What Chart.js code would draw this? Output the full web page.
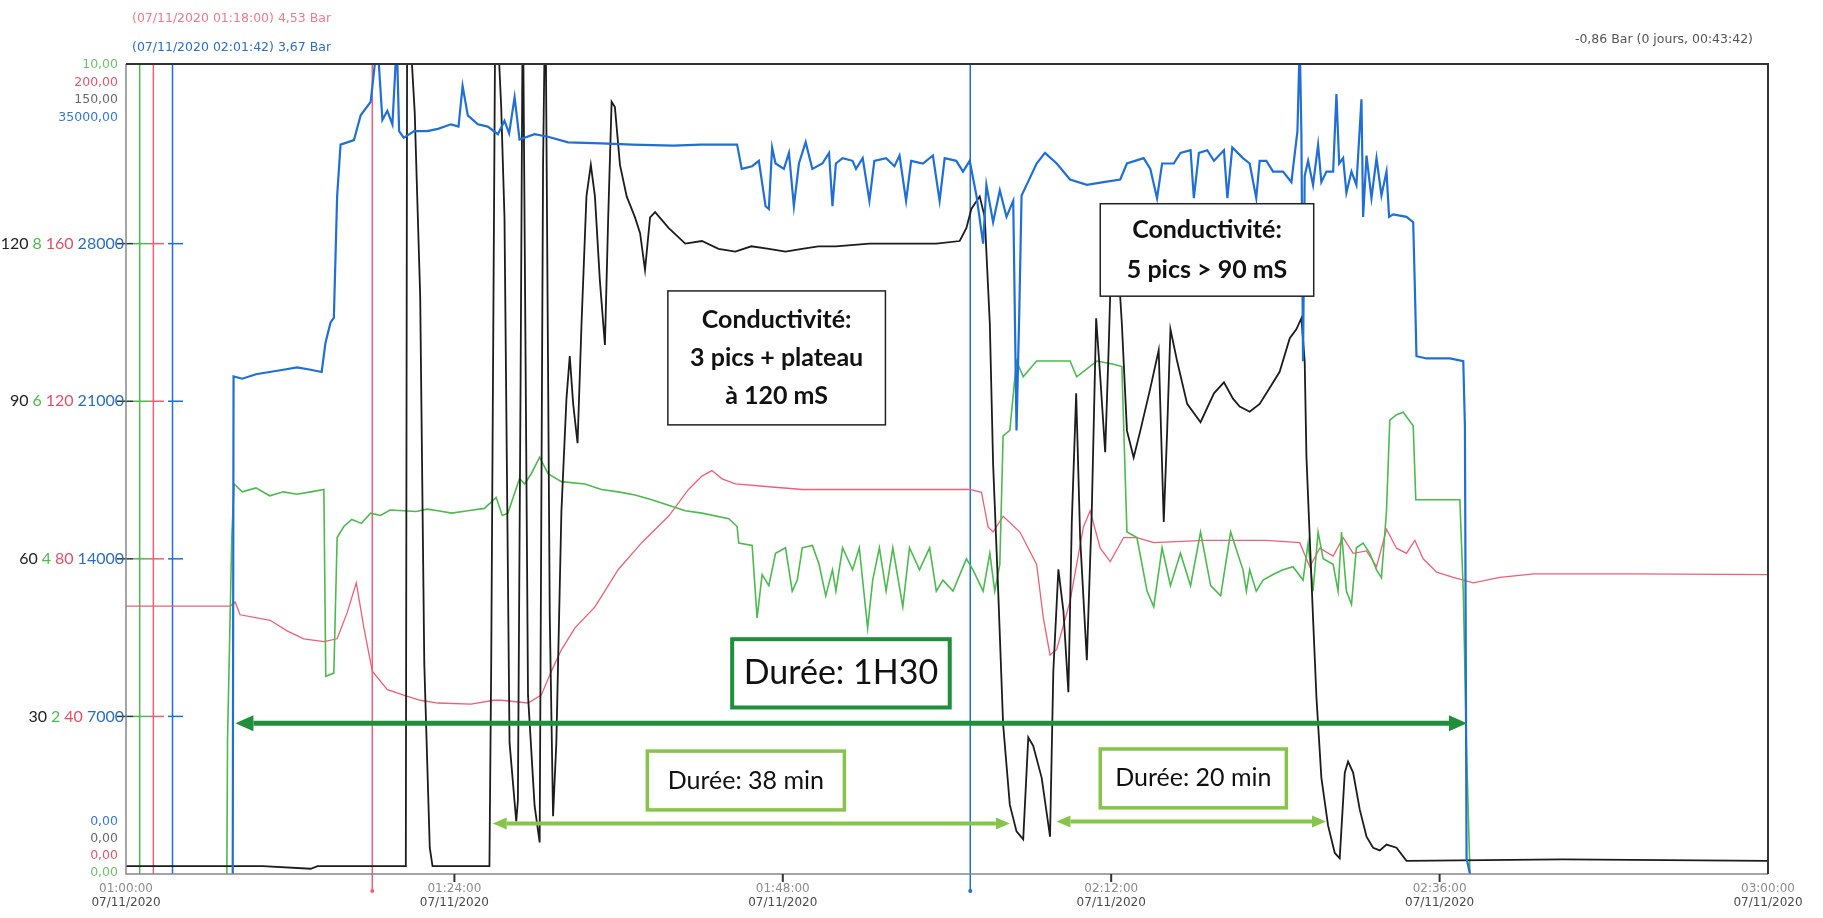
<!DOCTYPE html>
<html>
<head>
<meta charset="utf-8">
<title>Conductivité / Pression</title>
<script src="https://cdn.jsdelivr.net/npm/chart.js@4.4.1/dist/chart.umd.min.js"></script>
<style>
  html, body { margin: 0; padding: 0; background: #fff; }
  #wrap { width: 1823px; height: 918px; position: relative; }
</style>
</head>
<body>
<div id="wrap"><canvas id="chart"></canvas></div>
<script>
// Time in minutes since 01:00:00 (07/11/2020)
const TIME_TICKS = [0, 24, 48, 72, 96, 120];
const TIME_LABELS = ['01:00:00', '01:24:00', '01:48:00', '02:12:00', '02:36:00', '03:00:00'];
const DATE_LABEL = '07/11/2020';

// manual scale labels on the left axis (one row per level)
const LEVEL_BLACK = [30, 60, 90, 120];
const LEVEL_GREEN = [2, 4, 6, 8];
const LEVEL_RED = [40, 80, 120, 160];
const LEVEL_BLUE = [7000, 14000, 21000, 28000];

// cursors (time, series)
const CURSOR_T = [1.0, 2.0, 3.4, 18.0, 61.7];
const CURSOR_SERIES = ['green', 'red', 'blue', 'red', 'blue'];

// blue series
const BLUE_T = [7.8, 7.86, 8.5, 9.5, 10.5, 11.5, 12.5, 13.5, 14.3, 14.58, 14.95, 15.19, 15.43, 15.68, 16.66, 17.15, 17.88, 18.37, 18.74, 19.1, 19.47, 19.79, 19.96, 20.3, 21.06, 22.0, 22.8, 23.75, 24.3, 24.6, 24.98, 25.71, 26.44, 27.18, 27.66, 28.0, 28.4, 28.76, 29.86, 30.84, 32.31, 34.75, 37, 40, 42, 44.66, 45.0, 45.76, 46.25, 46.74, 46.98, 47.22, 47.47, 48.08, 48.45, 48.81, 49.18, 49.67, 50.16, 50.89, 51.38, 51.63,
  51.88, 52.37, 53.1, 53.35, 53.84, 54.33, 54.69, 55.55, 56.16, 56.53, 57.01, 57.38, 58.24, 58.97, 59.46, 59.83, 60.68, 61.17, 61.66, 62.15, 62.64, 62.88, 63.37, 63.86, 64.35, 64.84, 65.08, 65.28, 65.45, 65.82, 66.55, 67.16, 68.02, 68.99, 70.22, 71.44, 72.66, 73.15, 74.37, 74.86, 75.35, 75.72, 76.57, 77.06, 77.8, 78.04, 78.41, 79.02, 79.51, 80.24, 80.49, 80.85,
  81.63, 82.12, 82.6, 82.85, 83.34, 83.83, 84.56, 85.17, 85.61, 85.78, 85.9, 86.02, 86.14, 86.39, 86.75, 87.12, 87.36, 87.73, 88.22, 88.46, 88.66, 88.95, 89.19, 89.56, 89.92, 90.29, 90.41, 90.66, 91.02, 91.39, 91.75, 92.12, 92.31, 92.61, 93.58, 94.07, 94.19, 94.31, 95.05, 96.75, 97.73, 97.85, 97.97, 98.22];
const BLUE_V = [0, 22100, 22000, 22200, 22300, 22400, 22500, 22400, 22300, 23600, 24500, 24700, 30100, 32400, 32600, 33700, 34300, 37000, 33500, 33900, 33300, 37000, 33000, 32700, 33000, 33000, 33100, 33300, 33200, 35000, 33700, 33300, 33200, 32860, 33460, 32900, 34500, 32630, 32860, 32750, 32500, 32450, 32400, 32350, 32400, 32400, 31320, 31440, 31680, 29660, 29540, 32270, 31560, 31320, 32030, 29660, 31560, 32510, 31320, 31560, 32030, 29660,
  31560, 31800, 31680, 31320, 31800, 29900, 31680, 31800, 31440, 31915, 29900, 31680, 31560, 31915, 29900, 31800, 31680, 31200, 31680, 30140, 28000, 30610, 28950, 30370, 29190, 29900, 19700, 24900, 30140, 30610, 31560, 32030, 31560, 30850, 30610, 30730, 30850, 31560, 31800, 31320, 30020, 31560, 31560, 32030, 32150, 30020, 32030, 32150, 31680, 32150, 30020, 32270,
  31800, 31560, 30020, 31680, 31680, 31200, 31200, 30730, 33000, 37000, 32860, 22780, 31000, 31680, 30610, 32390, 30730, 31200, 31200, 34650, 31560, 31800, 30260, 31200, 30610, 34410, 29190, 31915, 30020, 31800, 30140, 31200, 29190, 29300, 29190, 28950, 26100, 23000, 22900, 22900, 22780, 19900, 700, 0];

// black series (conductivité, mS)
const BLACK_T = [0, 10, 13.5, 14, 20.45, 20.55, 21.1, 21.5, 21.8, 22.2, 22.4, 26.56, 26.69, 27.0, 27.42, 27.66, 28.03, 28.52, 28.64, 28.84, 29.0, 29.38, 29.86, 30.23, 30.48, 30.65, 30.97, 31.21, 31.45, 31.82, 32.19, 32.43, 32.68, 33.0, 33.29, 33.65, 33.97, 34.27, 34.63, 35.0, 35.24, 35.49, 35.73, 36.1, 36.59, 37.2, 37.57, 37.93, 38.3, 38.67, 39.65, 40.87, 42.09, 43.3, 44.53, 45.7, 46.98, 48.2, 49.4, 50.6, 51.88, 54.33, 56.77, 59.22, 60.93, 61.42, 61.78, 62.39, 62.76, 63.13, 63.37, 63.74, 64.1, 64.59, 65.08, 65.57, 65.94, 66.3, 66.92, 67.53, 67.77, 68.14, 68.51, 68.87, 69.12, 69.44, 69.73, 70.22, 70.58, 70.9, 71.2, 71.56, 71.81, 72.1, 72.42, 72.78, 73.15, 73.64, 74.13, 74.86, 75.47, 75.84, 76.09, 76.33, 76.82, 77.55, 78.53, 79.51, 80.24, 80.9, 81.39, 82.12, 82.85, 83.58, 84.31, 85.05, 85.53, 85.9, 86.14, 86.27, 86.51, 86.75, 87.0, 87.36, 87.85, 88.34, 88.7, 89.07, 89.31, 89.68, 90.17, 90.66, 91.14, 91.63, 92.12, 92.85, 93.58, 105, 120];
const BLACK_V = [1.5, 1.5, 1.0, 1.5, 1.5, 170, 145, 110, 40, 5, 1.5, 1.5, 40, 170, 146, 125, 25, 10, 14, 95, 170, 34, 13, 6, 135, 170, 49, 11, 25, 69, 90.5, 98.6, 89.5, 82, 104.7, 129, 135, 129, 113, 100.7, 125, 147, 146, 135, 129, 125, 122, 115, 125, 126, 123, 120, 120.5, 119, 118.5, 119.5, 119, 118.5, 119, 119.5, 119.5, 120, 120, 120, 120.5, 123, 126.6, 129, 125, 104.7, 78, 54, 28.5, 13.2, 8.1, 6.6, 26, 24.4, 18.3, 7.1, 38.6, 58, 50, 34.6, 67, 91.5, 64, 40.7, 69, 105.8, 94.6, 80.3, 99.7, 126, 120, 104.7, 84.4, 79.3, 84.4, 92.5, 99.7, 67, 84.4, 103.7, 97.6, 89.5, 86, 91.5, 93.6, 90.5, 89, 88, 89.5, 92.5, 95.6, 102, 103.7, 105.8, 97.6, 79.3, 64, 48.8, 33.6, 18.3, 9.2, 4, 3, 19.3, 21.4, 19.3, 12.2, 7.1, 5, 4.5, 5.6, 5, 2.5, 2.8, 2.5];

// green series
const GREEN_T = [7.37, 7.42, 7.73, 7.9, 8.5, 9.5, 10.5, 11.5, 12.5, 13.5, 14.46, 14.6, 15.19, 15.43, 15.92, 16.5, 17.2, 17.88, 18.6, 19.3, 20.3, 21.2, 22.0, 22.8, 23.8, 24.98, 26.2, 27.05, 27.5, 27.91, 28.76, 29.13, 29.62, 30.23, 30.84, 31.82, 33.53, 34.75, 35.98, 37.2, 38.42, 39.65, 40.87, 42.09, 44.05, 44.66, 44.78, 45.76, 46.12, 46.49, 46.98, 47.47, 48.2, 48.69, 49.06, 49.42, 50.16, 50.65, 51.14, 51.63,
  51.88, 52.37, 53.1, 53.59, 54.2, 54.57, 55.06, 55.55, 56.04, 56.77, 57.26, 57.99, 58.73, 59.22, 59.7, 60.44, 61.42, 61.9, 62.64, 63.13, 63.49, 63.86, 64.1, 64.59, 65.08, 65.57, 66.55, 67.77, 68.99, 69.48, 70.95, 72.17, 72.78, 73.15, 73.88, 74.62, 75.11, 75.72, 76.33, 77.06, 77.8, 78.53, 79.27, 80.0, 80.73,
  81.63, 81.88, 82.12, 82.6, 83.1, 83.83, 84.56, 85.29, 86.02, 86.39, 86.75, 87.12, 87.49, 88.22, 88.58, 88.83, 89.19, 89.56, 89.92, 90.41, 90.9, 91.39, 91.75, 92.12, 92.36, 92.85, 93.34, 94.07, 94.26, 95.53, 97.48, 97.73, 97.97, 98.22];
const GREEN_V = [0, 1.7, 4.27, 4.95, 4.85, 4.9, 4.8, 4.85, 4.82, 4.85, 4.88, 2.51, 2.55, 4.27, 4.41, 4.5, 4.45, 4.58, 4.55, 4.62, 4.61, 4.6, 4.63, 4.61, 4.58, 4.61, 4.64, 4.78, 4.55, 4.58, 5.02, 4.95, 5.08, 5.29, 5.08, 4.98, 4.95, 4.88, 4.85, 4.81, 4.75, 4.68, 4.61, 4.58, 4.51, 4.41, 4.2, 4.17, 3.25, 3.8, 3.66, 4.07, 4.14, 3.59, 3.73, 4.14, 4.17, 3.93, 3.53, 3.86,
  3.59, 4.14, 3.86, 4.14, 3.12, 3.73, 4.14, 3.59, 4.14, 3.39, 4.14, 3.86, 4.14, 3.59, 3.73, 3.59, 4.0, 3.86, 3.59, 4.07, 3.59, 3.93, 5.56, 5.63, 6.51, 6.31, 6.51, 6.51, 6.51, 6.31, 6.51, 6.47, 6.44, 4.34, 4.27, 3.59, 3.39, 4.14, 3.66, 4.07, 3.66, 4.34, 3.66, 3.53, 4.34,
  3.86, 3.59, 3.86, 3.59, 3.73, 3.8, 3.86, 3.9, 3.73, 4.2, 3.59, 4.34, 4.0, 3.93, 3.59, 4.34, 3.59, 3.42, 4.14, 4.2, 4.07, 3.86, 3.76, 4.61, 5.76, 5.83, 5.86, 5.69, 4.75, 4.75, 4.75, 3.59, 1.56, 0];

// red series
const RED_T = [0, 7.61, 7.98, 8.34, 10.54, 11.77, 12.99, 14.46, 15.43, 16.17, 16.83, 17.39, 18.0, 19.1, 20.3, 21.5, 22.8, 25.2, 26.9, 27.42, 29.38, 30.35, 31.09, 31.82, 32.8, 34.27, 35.98, 37.69, 39.65, 41.11, 42.09, 42.82, 43.56, 44.53, 46.98, 49.42, 51.88, 56.77, 61.66, 62.52, 63.0, 63.37, 64.1, 65.33, 66.55, 67.04, 67.53, 68.02, 68.99, 69.97, 70.46, 71.2, 71.93, 72.91, 73.88, 75.11, 78.77, 81.22, 83.34, 85.78, 86.51, 87.24, 88.22, 88.95, 89.68, 90.66, 91.39, 92.12, 92.85, 93.58, 94.19, 94.8, 95.78, 97.0, 98.46, 100.4, 102.9, 110, 120];
const RED_V = [68, 68, 69, 65.8, 64.4, 61.7, 59.7, 59.0, 59.7, 66.4, 73.9, 62.4, 51.5, 46.8, 45.4, 44.1, 43.4, 43.1, 44.1, 44.1, 43.4, 45.4, 51.5, 56.9, 62.4, 67.8, 77.3, 84.1, 90.8, 97.6, 101, 102.4, 100.3, 99, 98.3, 97.6, 97.6, 97.6, 97.6, 96.9, 88.1, 86.8, 90.8, 86.8, 78.6, 65, 55.6, 57, 69.2, 88.1, 92.2, 82.7, 79.3, 85.4, 85.4, 84.1, 84.7, 84.7, 84.7, 84.1, 78, 82.7, 80.7, 85.4, 81.4, 82, 78, 87.5, 82.7, 81.4, 84.7, 80, 76.6, 75.3, 73.9, 75.3, 76.2, 76.2, 76];

const COLORS = {
    blue: '#1f6fd6',
    black: '#1c1c1c',
    green: '#4cba4f',
    red: '#ec6078',
    darkGreen: '#1f8f3a',
    lightGreen: '#86c54a'
};

// scale height expressed in label steps (top of the frame sits a bit above step 5)
const FRAME_STEPS = 5.14;

const BOX_FONT = 'Lato, "Liberation Sans", Arial, sans-serif';

function pairs(ts, vs) {
    return ts.map((t, i) => ({ x: t, y: vs[i] }));
}

function timeToPx(chart, t) {
    return chart.scales.x.getPixelForValue(t);
}

function drawBox(ctx, chart, b) {
    const x1 = timeToPx(chart, b.t1), x2 = timeToPx(chart, b.t2);
    const y1 = chart.scales.y.getPixelForValue(b.v1), y2 = chart.scales.y.getPixelForValue(b.v2);
    ctx.save();
    ctx.fillStyle = '#fff';
    ctx.fillRect(x1, y1, x2 - x1, y2 - y1);
    ctx.strokeStyle = b.color;
    ctx.lineWidth = b.width;
    ctx.strokeRect(x1, y1, x2 - x1, y2 - y1);
    ctx.fillStyle = '#111';
    ctx.font = b.font;
    ctx.textAlign = 'center';
    ctx.textBaseline = 'middle';
    const cx = (x1 + x2) / 2, cy = (y1 + y2) / 2;
    const n = b.lines.length;
    b.lines.forEach((line, i) => {
        ctx.fillText(line, cx, cy + (i - (n - 1) / 2) * b.lineHeight);
    });
    ctx.restore();
}

function drawArrow(ctx, chart, a) {
    const x1 = timeToPx(chart, a.t1), x2 = timeToPx(chart, a.t2);
    const y = chart.scales.y.getPixelForValue(a.v);
    ctx.save();
    ctx.strokeStyle = a.color;
    ctx.fillStyle = a.color;
    ctx.lineWidth = a.width;
    ctx.beginPath();
    ctx.moveTo(x1 + a.head, y);
    ctx.lineTo(x2 - a.head, y);
    ctx.stroke();
    [[x1, 1], [x2, -1]].forEach(([x, dir]) => {
        ctx.beginPath();
        ctx.moveTo(x, y);
        ctx.lineTo(x + dir * a.head, y - a.half);
        ctx.lineTo(x + dir * a.head, y + a.half);
        ctx.closePath();
        ctx.fill();
    });
    ctx.restore();
}

const BOXES = [
    { t1: 39.6, t2: 55.5, v1: 111, v2: 85.5, color: '#222', width: 1.5, font: 'bold 25px ' + BOX_FONT, lineHeight: 38,
      lines: ['Conductivité:', '3 pics + plateau', 'à 120 mS'] },
    { t1: 71.2, t2: 86.8, v1: 127.6, v2: 110, color: '#222', width: 1.5, font: 'bold 25px ' + BOX_FONT, lineHeight: 40,
      lines: ['Conductivité:', '5 pics > 90 mS'] },
    { t1: 44.3, t2: 60.2, v1: 44.7, v2: 31.7, color: COLORS.darkGreen, width: 4, font: '34px ' + BOX_FONT, lineHeight: 34,
      lines: ['Durée: 1H30'] },
    { t1: 38.1, t2: 52.5, v1: 23.4, v2: 12.2, color: COLORS.lightGreen, width: 3.5, font: '25px ' + BOX_FONT, lineHeight: 25,
      lines: ['Durée: 38 min'] },
    { t1: 71.2, t2: 84.8, v1: 23.8, v2: 12.6, color: COLORS.lightGreen, width: 3.5, font: '25px ' + BOX_FONT, lineHeight: 25,
      lines: ['Durée: 20 min'] }
];

const ARROWS = [
    { t1: 8.0, t2: 98.0, v: 28.7, color: COLORS.darkGreen, width: 5, head: 18, half: 8 },
    { t1: 26.8, t2: 64.6, v: 9.6, color: COLORS.lightGreen, width: 4, head: 14, half: 6 },
    { t1: 68.0, t2: 87.7, v: 10.0, color: COLORS.lightGreen, width: 4, head: 14, half: 6 }
];

const overlay = {
    id: 'overlay',
    beforeDatasetsDraw(chart) {
        const ctx = chart.ctx, a = chart.chartArea;
        ctx.save();
        // cursors
        CURSOR_T.forEach((t, i) => {
            const x = timeToPx(chart, t);
            const long = i >= 3;
            ctx.strokeStyle = COLORS[CURSOR_SERIES[i]];
            ctx.lineWidth = 1.5;
            ctx.beginPath();
            ctx.moveTo(x, a.top);
            ctx.lineTo(x, a.bottom + (long ? 16 : 0));
            ctx.stroke();
            if (long) {
                ctx.fillStyle = COLORS[CURSOR_SERIES[i]];
                ctx.beginPath();
                ctx.arc(x, a.bottom + 17, 2, 0, Math.PI * 2);
                ctx.fill();
            }
        });
        // level tick segments
        const segs = [['black', -9, 7], ['green', 7, 23], ['red', 23, 38], ['blue', 42, 57]];
        LEVEL_BLACK.forEach(v => {
            const y = chart.scales.y.getPixelForValue(v);
            segs.forEach(([c, s, e]) => {
                ctx.strokeStyle = c === 'black' ? '#333' : COLORS[c];
                ctx.lineWidth = 1.5;
                ctx.beginPath();
                ctx.moveTo(a.left + s, y);
                ctx.lineTo(a.left + e, y);
                ctx.stroke();
            });
        });
        ctx.restore();
    },
    afterDatasetsDraw(chart) {
        const ctx = chart.ctx, a = chart.chartArea;
        ctx.save();
        // frame
        ctx.strokeStyle = '#888';
        ctx.lineWidth = 1.5;
        ctx.beginPath();
        ctx.moveTo(a.left, a.top);
        ctx.lineTo(a.left, a.bottom);
        ctx.lineTo(a.right, a.bottom);
        ctx.stroke();
        ctx.strokeStyle = '#333';
        ctx.lineWidth = 2;
        ctx.beginPath();
        ctx.moveTo(a.left, a.top);
        ctx.lineTo(a.right, a.top);
        ctx.lineTo(a.right, a.bottom);
        ctx.stroke();
        // x ticks
        ctx.strokeStyle = '#333';
        ctx.lineWidth = 2;
        TIME_TICKS.slice(1, -1).forEach(t => {
            const x = timeToPx(chart, t);
            ctx.beginPath();
            ctx.moveTo(x, a.bottom);
            ctx.lineTo(x, a.bottom + 8);
            ctx.stroke();
        });
        ctx.restore();
        ARROWS.forEach(ar => drawArrow(ctx, chart, ar));
        BOXES.forEach(b => drawBox(ctx, chart, b));
    },
    afterDraw(chart) {
        const ctx = chart.ctx, a = chart.chartArea;
        ctx.save();
        ctx.textBaseline = 'middle';
        // x labels
        ctx.textAlign = 'center';
        ctx.font = '12px "DejaVu Sans", sans-serif';
        TIME_TICKS.forEach((t, i) => {
            const x = timeToPx(chart, t);
            ctx.fillStyle = '#8c8c8c';
            ctx.fillText(TIME_LABELS[i], x, a.bottom + 15);
            ctx.fillStyle = '#4a4a4a';
            ctx.fillText(DATE_LABEL, x, a.bottom + 29);
        });
        // header texts
        ctx.textAlign = 'left';
        ctx.font = '12.5px "DejaVu Sans", sans-serif';
        ctx.fillStyle = '#ea7d8c';
        ctx.fillText('(07/11/2020 01:18:00) 4,53 Bar', 132, 19);
        ctx.fillStyle = '#2e6ec6';
        ctx.fillText('(07/11/2020 02:01:42) 3,67 Bar', 132, 48);
        ctx.textAlign = 'right';
        ctx.fillStyle = '#555';
        ctx.fillText('-0,86 Bar (0 jours, 00:43:42)', 1753, 40);
        // stacked scale bounds
        const tops = [['10,00', '#6cc26c'], ['200,00', '#e4566c'], ['150,00', '#6a6a6a'], ['35000,00', '#3478d0']];
        tops.forEach(([s, c], i) => {
            ctx.fillStyle = c;
            ctx.fillText(s, a.left - 8, a.top + 1 + i * 17.5);
        });
        const bottoms = [['0,00', '#3478d0'], ['0,00', '#6a6a6a'], ['0,00', '#e4566c'], ['0,00', '#6cc26c']];
        bottoms.forEach(([s, c], i) => {
            ctx.fillStyle = c;
            ctx.fillText(s, a.left - 8, a.bottom - 52 + i * 17);
        });
        // manual level labels
        ctx.font = '16px ' + BOX_FONT;
        LEVEL_BLACK.forEach((v, i) => {
            const y = chart.scales.y.getPixelForValue(v);
            const parts = [[String(LEVEL_BLACK[i]), '#222'], [String(LEVEL_GREEN[i]), COLORS.green], [String(LEVEL_RED[i]), '#e0506a'], [String(LEVEL_BLUE[i]), '#2a6dc0']];
            let x = a.left - 2;
            for (let k = parts.length - 1; k >= 0; k--) {
                ctx.fillStyle = parts[k][1];
                ctx.fillText(parts[k][0], x, y);
                x -= ctx.measureText(parts[k][0]).width + 4;
            }
        });
        ctx.restore();
    }
};

const lineDefaults = { pointRadius: 0, tension: 0, fill: false };

new Chart(document.getElementById('chart'), {
    type: 'line',
    data: {
        datasets: [
            { ...lineDefaults, label: 'Pression', data: pairs(BLUE_T, BLUE_V), borderColor: COLORS.blue, borderWidth: 2.2, yAxisID: 'yB' },
            { ...lineDefaults, label: 'Conductivité', data: pairs(BLACK_T, BLACK_V), borderColor: COLORS.black, borderWidth: 1.8, yAxisID: 'y' },
            { ...lineDefaults, label: 'Vert', data: pairs(GREEN_T, GREEN_V), borderColor: COLORS.green, borderWidth: 1.6, yAxisID: 'yG' },
            { ...lineDefaults, label: 'Rouge', data: pairs(RED_T, RED_V), borderColor: COLORS.red, borderWidth: 1.3, yAxisID: 'yR' }
        ]
    },
    options: {
        responsive: true,
        maintainAspectRatio: false,
        animation: false,
        layout: { padding: { left: 126, right: 55, top: 64, bottom: 0 } },
        plugins: { legend: { display: false }, tooltip: { enabled: false } },
        scales: {
            x: {
                type: 'linear', min: 0, max: 120,
                grid: { display: false }, border: { display: false },
                ticks: { display: false },
                afterFit(scale) { scale.height = 44; }
            },
            y: { display: false, min: 0, max: 30 * FRAME_STEPS },
            yG: { display: false, min: 0, max: 2 * FRAME_STEPS },
            yR: { display: false, min: 0, max: 40 * FRAME_STEPS },
            yB: { display: false, min: 0, max: 7000 * FRAME_STEPS }
        }
    },
    plugins: [overlay]
});
</script>
</body>
</html>
